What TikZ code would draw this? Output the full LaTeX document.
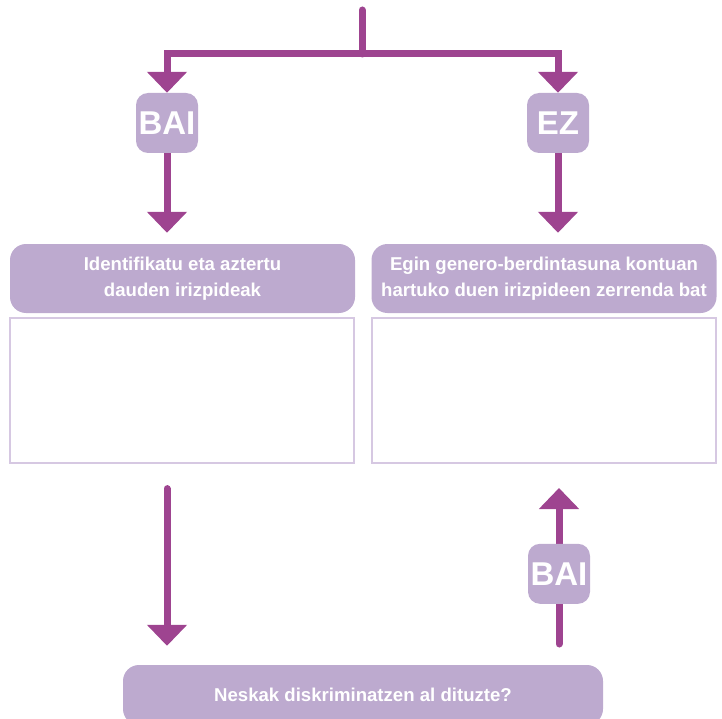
\documentclass[tikz,border=0pt]{standalone}
\usepackage{fontspec}
\setmainfont{Liberation Sans}
\usepackage{tikz}
\usetikzlibrary{arrows.meta,calc}

\definecolor{plum}{RGB}{158,68,144}
\definecolor{lilac}{RGB}{189,170,207}
\definecolor{lilacline}{RGB}{214,200,226}

\begin{document}
\begin{tikzpicture}[
    x=1pt, y=-1pt,
    flow/.style={line width=7pt,plum,-{Triangle[width=39pt,length=21pt]}},
    tag/.style={fill=lilac,rounded corners=12pt,minimum width=62pt,minimum height=60pt,
                inner sep=0pt,text=white,font=\fontsize{33}{36}\selectfont\bfseries},
    head/.style={fill=lilac,rounded corners=16pt,minimum width=345pt,minimum height=69pt,
                 inner sep=0pt,text=white,align=center,font=\fontsize{18.6}{26}\selectfont\bfseries},
    blank/.style={draw=lilacline,line width=1.2pt,minimum width=344pt,minimum height=145pt,inner sep=0pt}
]
\clip (0,0) rectangle (722,719);

% split at the top
\coordinate (top) at (362,10);
\coordinate (split) at (362,54);

% answers
\node[tag] (bai) at (167,123) {BAI};
\node[tag] (ez)  at (558,123) {EZ};

% the two columns
\node[head] (hdrL) at (182.5,278.5) {Identifikatu eta aztertu\\dauden irizpideak};
\node[head] (hdrR) at (544,278.5) {Egin genero-berdintasuna kontuan\\hartuko duen irizpideen zerrenda bat};
\node[blank] (boxL) at (182,390.5) {};
\node[blank] (boxR) at (544,390.5) {};

% question
\node[head,minimum width=480pt,minimum height=60pt] (quest) at (363,695) {Neskak diskriminatzen al dituzte?};

% connectors
\draw[line width=7pt,plum,line cap=round] (top) -- (split);
\draw[flow] (split) -| (bai.north);
\draw[flow] (split) -| (ez.north);
\draw[flow,shorten >=11pt] (bai.south) -- (bai.south |- hdrL.north);
\draw[flow,shorten >=11pt] (ez.south) -- (ez.south |- hdrR.north);
\draw[flow,shorten <=25pt,shorten >=19pt,line cap=round] (bai.south |- boxL.south) -- (bai.south |- quest.north);

\coordinate (upS) at (559,644);
\coordinate (upE) at (559,488);
\draw[flow,line cap=round] (upS) -- (upE) node[tag,pos=0.45] (bai2) {BAI};

\end{tikzpicture}
\end{document}
